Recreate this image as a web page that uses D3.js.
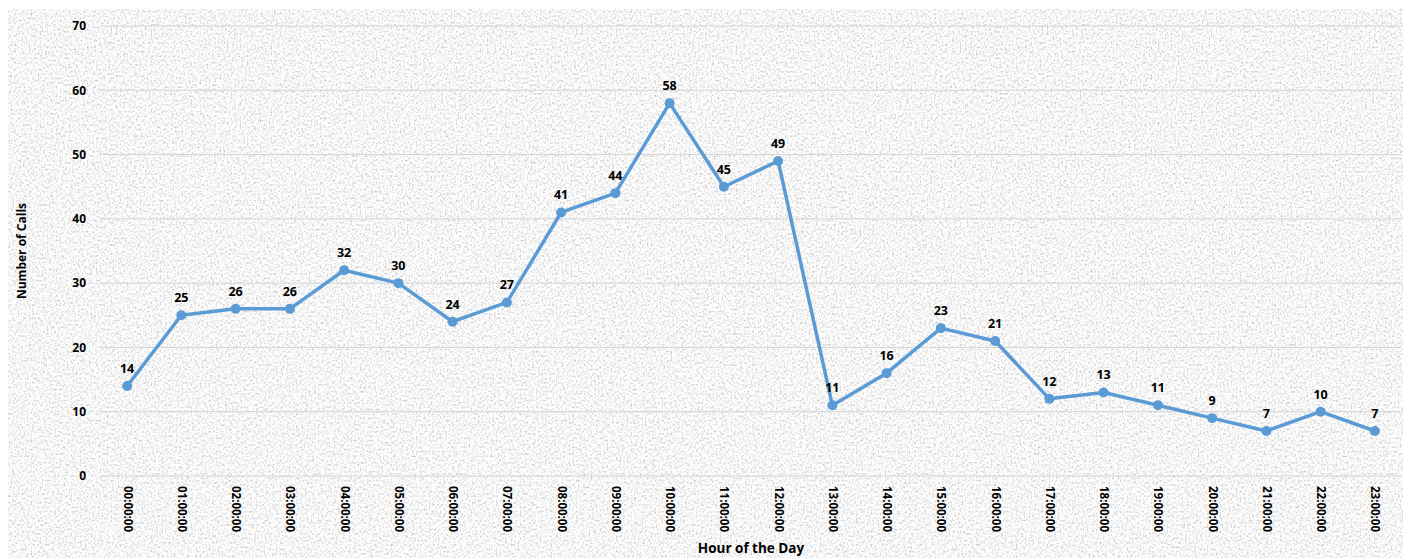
<!DOCTYPE html>
<html>
<head>
<meta charset="utf-8">
<script src="https://cdn.jsdelivr.net/npm/d3@7"></script>
<style>
  html, body { margin: 0; padding: 0; background: #ffffff; }
  svg { display: block; }
  text { font-family: "Open Sans", Lato, sans-serif; font-weight: 700; fill: #000; }
</style>
</head>
<body>
<svg id="chart" width="1408" height="558"></svg>
<script>
// Hourly call counts
const hours = ["00:00:00","01:00:00","02:00:00","03:00:00","04:00:00","05:00:00",
               "06:00:00","07:00:00","08:00:00","09:00:00","10:00:00","11:00:00",
               "12:00:00","13:00:00","14:00:00","15:00:00","16:00:00","17:00:00",
               "18:00:00","19:00:00","20:00:00","21:00:00","22:00:00","23:00:00"];
const calls = [14,25,26,26,32,30,24,27,41,44,58,45,49,11,16,23,21,12,13,11,9,7,10,7];
const yTicks = [0,10,20,30,40,50,60,70];

const svg = d3.select("#chart");
const W = 1408, H = 558;
const FONT = "'Open Sans', Lato, sans-serif";

// granite-like paper texture for the chart area
const defs = svg.append("defs");
const f = defs.append("filter").attr("id", "grain")
  .attr("x", 0).attr("y", 0).attr("width", 1).attr("height", 1);
f.append("feTurbulence").attr("type", "fractalNoise")
  .attr("baseFrequency", "0.55 0.45").attr("numOctaves", 3).attr("seed", 11)
  .attr("result", "noise");
f.append("feColorMatrix").attr("in", "noise").attr("type", "matrix")
  .attr("values", "1.0 0 0 0 0.43  1.0 0 0 0 0.43  1.0 0 0 0 0.43  0 0 0 0 1");

svg.append("rect").attr("x", 8).attr("y", 9).attr("width", 1395).attr("height", H - 9)
  .attr("fill", "#ededed");
svg.append("rect").attr("x", 8).attr("y", 9).attr("width", 1395).attr("height", H - 9)
  .attr("filter", "url(#grain)");

const x = d3.scalePoint().domain(hours).range([100, 1402]).padding(0.5);
const y = d3.scaleLinear().domain([0, 70]).range([476, 26]);

// horizontal gridlines
svg.append("g").selectAll("line").data(yTicks).join("line")
  .attr("x1", 100).attr("x2", 1402)
  .attr("y1", d => y(d)).attr("y2", d => y(d))
  .attr("stroke", "#d4d4d4").attr("stroke-width", 1);

// y axis labels
const yAxis = svg.append("g").attr("transform", "translate(86,0)")
  .call(d3.axisLeft(y).tickValues(yTicks).tickSize(0).tickPadding(0));
yAxis.select(".domain").remove();
yAxis.selectAll("text").style("font-size", "12px")
  .style("font-family", FONT).style("font-weight", 700);

// x axis labels, rotated to read downward
const xAxis = svg.append("g").attr("transform", "translate(0,486)")
  .call(d3.axisBottom(x).tickSize(0).tickPadding(0));
xAxis.select(".domain").remove();
xAxis.selectAll("text")
  .attr("transform", "rotate(90)")
  .attr("x", 0).attr("y", 0).attr("dy", "0.35em")
  .style("text-anchor", "start")
  .style("font-size", "11.5px")
  .style("font-family", FONT).style("font-weight", 700);

// axis titles
svg.append("text").attr("x", 751).attr("y", 553).attr("text-anchor", "middle")
  .style("font-size", "13.5px").text("Hour of the Day");
svg.append("text").attr("transform", "translate(26,251) rotate(-90)")
  .attr("text-anchor", "middle").style("font-size", "12px").text("Number of Calls");

// series line and markers
const line = d3.line().x((d, i) => x(hours[i])).y(d => y(d));
svg.append("path").datum(calls).attr("d", line)
  .attr("fill", "none").attr("stroke", "#5b9bd5").attr("stroke-width", 3.5)
  .attr("stroke-linejoin", "round");
svg.append("g").selectAll("circle").data(calls).join("circle")
  .attr("cx", (d, i) => x(hours[i])).attr("cy", d => y(d)).attr("r", 5)
  .attr("fill", "#5b9bd5");

// value labels
svg.append("g").selectAll("text").data(calls).join("text")
  .attr("x", (d, i) => x(hours[i])).attr("y", d => y(d) - 13)
  .attr("text-anchor", "middle").style("font-size", "12.5px")
  .text(d => d);
</script>
</body>
</html>
